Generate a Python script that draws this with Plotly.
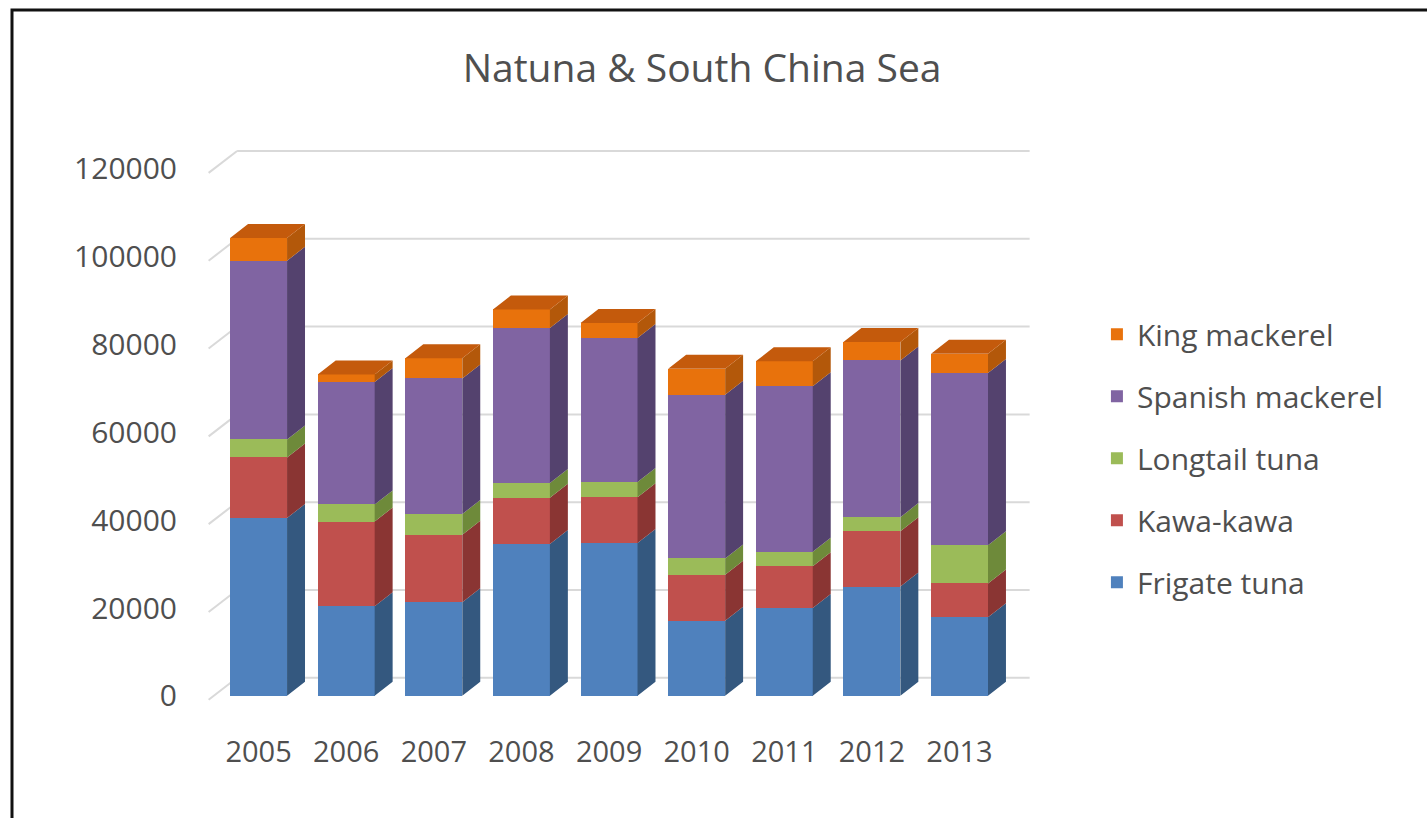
import plotly.graph_objects as go

years = ["2005", "2006", "2007", "2008", "2009", "2010", "2011", "2012", "2013"]
frigate_tuna = [40500, 20400, 21300, 34600, 34800, 17100, 20000, 24900, 17900]
kawa_kawa = [13800, 19300, 15400, 10500, 10400, 10500, 9500, 12600, 7700]
longtail_tuna = [4100, 3900, 4700, 3400, 3500, 3700, 3300, 3200, 8700]
spanish_mackerel = [40700, 27900, 30900, 35300, 32800, 37300, 37700, 35700, 39200]
king_mackerel = [5200, 1700, 4600, 4200, 3400, 5900, 5700, 4200, 4400]
y_ticks = [0, 20000, 40000, 60000, 80000, 100000, 120000]

series = [
    ("Frigate tuna", frigate_tuna, "#4F81BD", "#34587F"),
    ("Kawa-kawa", kawa_kawa, "#C0504D", "#8A3533"),
    ("Longtail tuna", longtail_tuna, "#9BBB59", "#6E8A3A"),
    ("Spanish mackerel", spanish_mackerel, "#8064A2", "#54426E"),
    ("King mackerel", king_mackerel, "#E8720C", "#B3580A"),
]
top_color = "#C45A0C"

xs = list(range(len(years)))
bar_w = 0.65
dx = 0.205      # depth offset along x (data units)
dy = 3190       # depth offset along y (data units)
grid_front_x = -0.57
grid_back_x = -0.245
grid_right_x = 8.80

fig = go.Figure()

# front faces (stacked bars)
n = len(series)
for k, (name, vals, col, side) in enumerate(series):
    fig.add_trace(go.Bar(
        x=xs, y=vals, name=name, width=bar_w,
        marker=dict(color=col, line=dict(width=0)),
        legendgroup=name, legendrank=n - k,
    ))

# side faces, derived from stacked values
base = [0] * len(years)
for name, vals, col, side in series:
    px_, py_ = [], []
    for i, v in enumerate(vals):
        x1 = xs[i] + bar_w / 2
        y0 = base[i]
        y1 = base[i] + v
        px_ += [x1, x1 + dx, x1 + dx, x1, x1, None]
        py_ += [y0, y0 + dy, y1 + dy, y1, y0, None]
    fig.add_trace(go.Scatter(
        x=px_, y=py_, mode="lines", fill="toself", fillcolor=side,
        line=dict(width=0, color=side), showlegend=False, hoverinfo="skip",
    ))
    base = [b + v for b, v in zip(base, vals)]

# top faces
tx, ty = [], []
for i, top in enumerate(base):
    x0 = xs[i] - bar_w / 2
    x1 = xs[i] + bar_w / 2
    tx += [x0, x0 + dx, x1 + dx, x1, x0, None]
    ty += [top, top + dy, top + dy, top, top, None]
fig.add_trace(go.Scatter(
    x=tx, y=ty, mode="lines", fill="toself", fillcolor=top_color,
    line=dict(width=0, color=top_color), showlegend=False, hoverinfo="skip",
))

# perspective gridlines
shapes = []
for v in y_ticks:
    shapes.append(dict(type="line", xref="x", yref="y", layer="below",
                       x0=grid_front_x, y0=v - 900, x1=grid_back_x, y1=v + 4100,
                       line=dict(color="#D9D9D9", width=2)))
    shapes.append(dict(type="line", xref="x", yref="y", layer="below",
                       x0=grid_back_x, y0=v + 4100, x1=grid_right_x, y1=v + 4100,
                       line=dict(color="#D9D9D9", width=2)))
# chart border
shapes.append(dict(type="rect", xref="paper", yref="paper",
                   x0=-0.2343, y0=-0.25, x1=1.55, y1=1.2438,
                   line=dict(color="#111111", width=3), layer="above"))

font_fam = "Open Sans, Lato, sans-serif"
txt_col = "#4F4F4F"
fig.update_layout(
    width=1427, height=818,
    margin=dict(l=206, r=393, t=147, b=109),
    barmode="stack",
    paper_bgcolor="white", plot_bgcolor="rgba(0,0,0,0)",
    title=dict(text="Natuna & South China Sea", x=0.492, xanchor="center",
               y=0.917, yanchor="middle",
               font=dict(family=font_fam, size=39, color=txt_col)),
    xaxis=dict(range=[-0.6, 8.85], tickmode="array", tickvals=xs, ticktext=years,
               showgrid=False, zeroline=False, showline=False,
               ticks="outside", ticklen=17, tickcolor="rgba(0,0,0,0)",
               tickfont=dict(family=font_fam, size=29, color=txt_col)),
    yaxis=dict(range=[-3000, 125000], tickmode="array", tickvals=y_ticks,
               ticktext=[str(t) for t in y_ticks],
               showgrid=False, zeroline=False, showline=False,
               ticks="outside", ticklen=22, tickcolor="rgba(0,0,0,0)",
               tickfont=dict(family=font_fam, size=30, color=txt_col)),
    legend=dict(x=1.076, xanchor="left", y=0.713, yanchor="top",
                traceorder="grouped", tracegroupgap=20,
                font=dict(family=font_fam, size=30, color=txt_col),
                bgcolor="rgba(0,0,0,0)"),
    shapes=shapes,
    bargap=0.35,
)

fig.write_html("out.html")
